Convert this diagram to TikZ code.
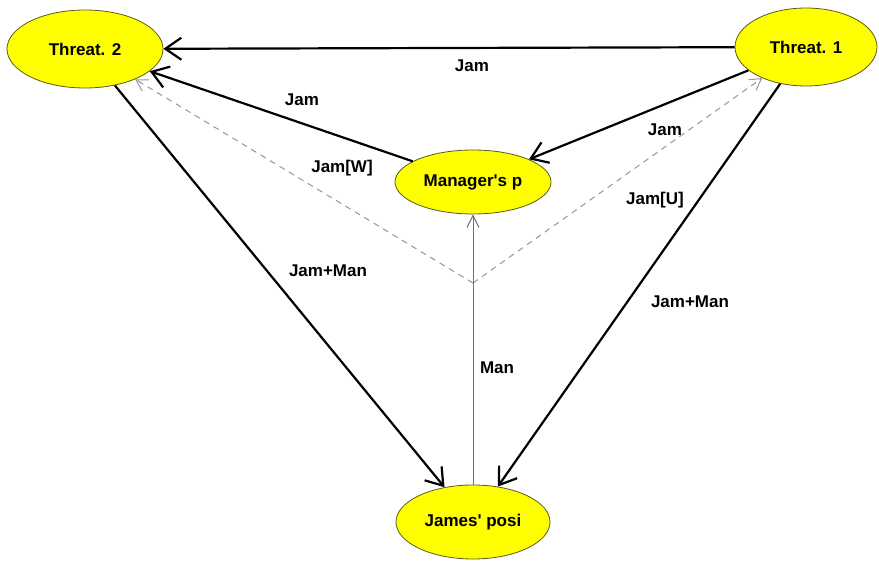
\documentclass[tikz,border=0pt]{standalone}
\usepackage{fontspec}
\setmainfont{Liberation Sans}[Ligatures=TeXOff]
\usetikzlibrary{shapes.geometric,arrows.meta}
\definecolor{nodeyellow}{RGB}{255,255,0}
\definecolor{nodeborder}{RGB}{90,90,30}
\definecolor{dashgray}{RGB}{150,150,150}
\definecolor{mangray}{RGB}{110,110,110}
\tikzset{
  statenode/.style={ellipse, draw=nodeborder, line width=0.8pt, fill=nodeyellow, inner sep=0pt,
    font=\fontsize{17}{19}\selectfont\bfseries},
  lbl/.style={font=\fontsize{17}{19}\selectfont\bfseries, inner sep=1pt},
  thickedge/.style={line width=2.2pt, -{Straight Barb[length=16pt,width=22pt]}},
  dashedge/.style={draw=dashgray, line width=1pt, dashed, dash pattern=on 6pt off 5pt, -{Straight Barb[length=11pt,width=13pt]}},
  manedge/.style={draw=mangray, line width=1pt, -{Straight Barb[length=12pt,width=12pt]}}
}
\begin{document}
\begin{tikzpicture}[x=1pt,y=-1pt]
\useasboundingbox (0,0) rectangle (879,561);
\node[statenode, minimum width=156pt, minimum height=78pt] (t2) at (85,49) {Threat. 2};
\node[statenode, minimum width=142pt, minimum height=78pt] (t1) at (806,47) {Threat. 1};
\node[statenode, minimum width=156pt, minimum height=64pt] (mgr) at (473,182) {Manager's p};
\node[statenode, minimum width=154pt, minimum height=74pt] (jam) at (473,522) {James' posi};
\coordinate (hub) at (473,283);
\draw[thickedge] (t1) -- (t2);
\draw[thickedge] (mgr) -- (t2);
\draw[thickedge] (t1) -- (mgr);
\draw[thickedge] (t2) -- (jam);
\draw[thickedge] (t1) -- (jam);
\draw[dashedge] (hub) -- (t2);
\draw[dashedge] (hub) -- (t1);
\draw[manedge] (jam) -- (mgr);
\node[lbl] (l1) at (472,66) {Jam};
\node[lbl] (l2) at (302,100) {Jam};
\node[lbl] (l3) at (665,130) {Jam};
\node[lbl] (l4) at (342,168) {Jam[W]};
\node[lbl] (l5) at (655,200) {Jam[U]};
\node[lbl] (l6) at (328,271) {Jam+Man};
\node[lbl] (l7) at (690,302) {Jam+Man};
\node[lbl] (l8) at (497,368) {Man};
\end{tikzpicture}
\end{document}
